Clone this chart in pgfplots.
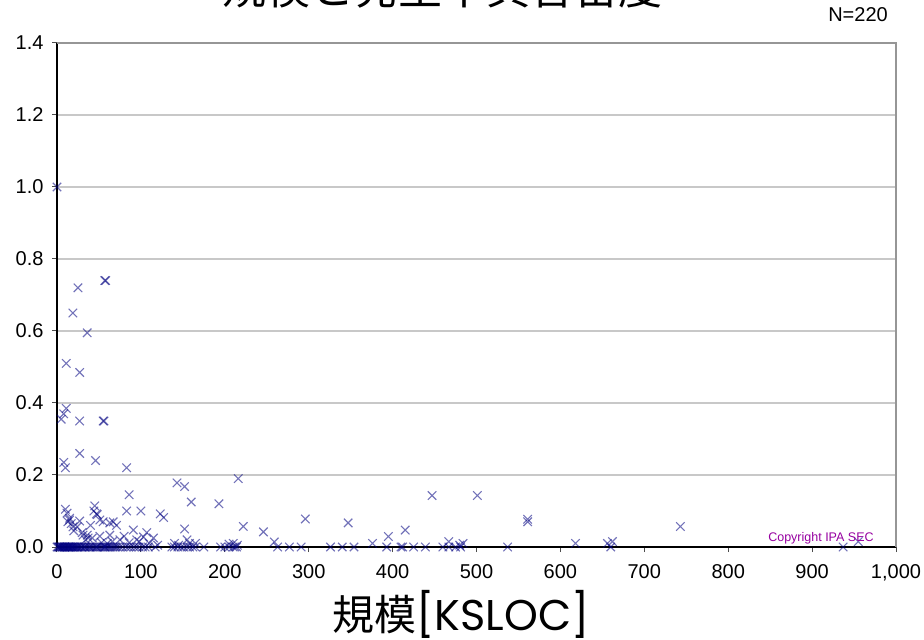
\documentclass[border=0pt]{standalone}
\usepackage{fontspec}
\setmainfont{Liberation Sans}
\newfontfamily\cjk{Noto Sans CJK JP}
\newfontfamily\pop{Poppins}
\usepackage{pgfplots}
\pgfplotsset{compat=1.18}
\definecolor{markblue}{RGB}{0,0,128}
\definecolor{gridgray}{RGB}{200,200,200}
\definecolor{boxgray}{RGB}{150,150,150}
\definecolor{copyc}{RGB}{150,0,160}
\begin{document}
\begin{tikzpicture}
\begin{axis}[
    name=ax,
    at={(0,0)}, anchor=south west,
    width=839pt, height=504pt,
    scale only axis,
    xmin=0, xmax=1000,
    ymin=0, ymax=1.4,
    xtick={0,100,...,1000},
    ytick={0,0.2,...,1.4},
    axis lines=left,
    axis line style={-, line width=1.6pt, black},
    tick align=outside,
    major tick length=5pt,
    tick style={line width=1pt, black!70},
    ymajorgrids=true,
    grid style={line width=1.5pt, gridgray},
    ticklabel style={font=\fontsize{20}{22}\selectfont},
    /pgf/number format/assume math mode=true,
    yticklabel style={xshift=-5pt, /pgf/number format/.cd, fixed, fixed zerofill, precision=1},
    xticklabel style={yshift=-9pt, /pgf/number format/1000 sep={,}},
    clip=false,
]
\addplot[only marks, mark=x, mark size=6pt, line width=1.1pt,
         color=markblue, mark options={draw opacity=0.55}]
coordinates {
(0,1.0) (25,0.72) (57,0.74) (58,0.74) (19,0.65) (36,0.595) (11,0.51)
(27,0.485) (11,0.385) (8,0.37) (5,0.355) (27,0.35) (55,0.35) (56,0.35)
(27,0.26) (8,0.235) (10,0.22) (46,0.24) (83,0.22) (216,0.19) (143,0.178)
(152,0.168) (160,0.125) (193,0.12) (86,0.145) (83,0.10) (100,0.10)
(123,0.092) (127,0.082) (222,0.057) (152,0.05) (296,0.078) (246,0.042)
(259,0.014) (347,0.067) (376,0.01) (395,0.029) (415,0.047) (447,0.143)
(501,0.143) (561,0.077) (561,0.07) (467,0.015) (484,0.01) (480,0.005)
(618,0.01) (656,0.01) (662,0.015) (743,0.057) (955,0.015)
(10,0.105) (12,0.094) (15,0.08) (15,0.075) (19,0.056) (24,0.056) (27,0.072)
(45,0.114) (47,0.092) (48,0.09) (51,0.075) (55,0.07) (36,0.033) (42,0.025)
(63,0.067) (67,0.07) (71,0.06) (91,0.047) (103,0.028) (107,0.04) (51,0.03)
(63,0.033) (75,0.02) (31,0.033) (37,0.025) (13,0.07) (17,0.065) (20,0.045)
(30,0.04) (34,0.02) (40,0.06) (44,0.1) (53,0.012) (60,0.01) (66,0.015)
(80,0.03) (86,0.012) (95,0.02) (98,0.015) (110,0.01) (115,0.025) (120,0.005)
(140,0.01) (145,0.005) (155,0.02) (158,0.01) (165,0.01) (205,0.008)
(210,0.01) (215,0.005)
(0,0) (1,0) (2,0) (3,0) (4,0) (5,0) (6,0) (7,0) (8,0) (9,0) (10,0) (11,0)
(12,0) (13,0) (14,0) (15,0) (16,0) (17,0) (18,0) (19,0) (20,0) (21,0)
(22,0) (23,0) (24,0) (25,0) (26,0) (28,0) (30,0) (32,0) (34,0) (36,0)
(38,0) (40,0) (42,0) (44,0) (46,0) (48,0) (50,0) (52,0) (54,0) (56,0)
(58,0) (60,0) (62,0) (64,0) (66,0) (68,0) (70,0) (72,0) (75,0) (78,0)
(82,0) (85,0) (88,0) (92,0) (95,0) (98,0) (102,0) (105,0) (109,0) (117,0)
(137,0) (140,0) (144,0) (148,0) (151,0) (155,0) (158,0) (162,0) (165,0)
(175,0) (195,0) (200,0) (205,0) (210,0) (212,0) (214,0) (263,0) (277,0)
(291,0) (326,0) (340,0) (354,0) (393,0) (410,0) (412,0) (425,0) (439,0)
(460,0) (467,0) (475,0) (481,0) (537,0) (660,0) (937,0)
(3,0) (6,0) (9,0) (14,0) (18,0) (29,0) (33,0) (39,0) (47,0) (57,0)
};
\end{axis}
\draw[boxgray, line width=1.2pt] (ax.north west) -- (ax.north east) -- (ax.south east);
\pgfresetboundingbox
\path[use as bounding box] (-57pt,-93pt) rectangle (867pt,547pt);
\node[anchor=base, inner sep=0pt] at (385pt,542pt)
  {\cjk\fontsize{44}{50}\selectfont 規模と発生不具合密度};
\node[anchor=base, inner sep=0pt] at (801pt,525pt)
  {\fontsize{20}{22}\selectfont N=220};
\node[anchor=base, inner sep=0pt] at (404pt,-83pt)
  {\cjk\fontsize{42}{46}\selectfont 規模\pop\fontsize{43}{50}\selectfont[KSLOC]};
\node[anchor=base, inner sep=0pt, text=copyc] at (764pt,5pt)
  {\fontsize{12.5}{14}\selectfont Copyright IPA SEC};
\end{tikzpicture}
\end{document}
